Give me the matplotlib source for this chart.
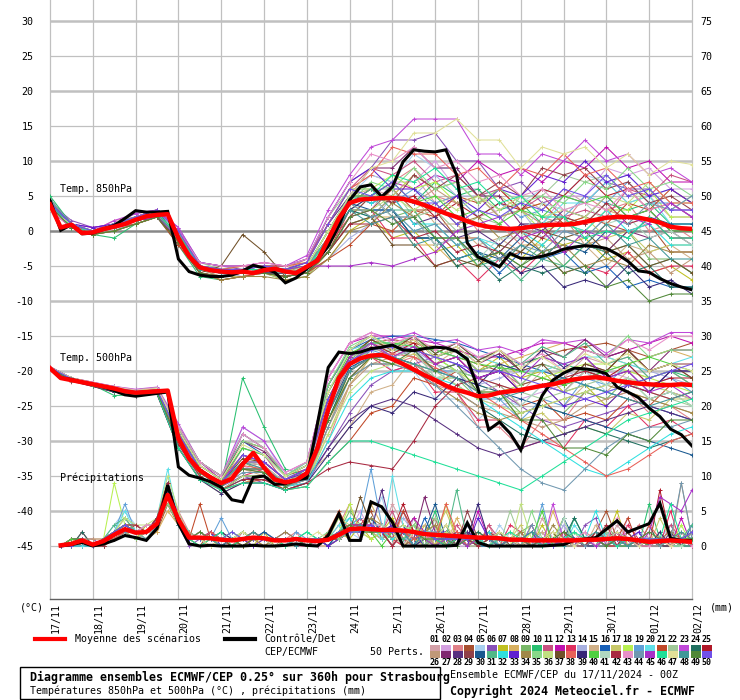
import matplotlib
matplotlib.use("Agg")
import matplotlib.pyplot as plt
from matplotlib.patches import Rectangle
from matplotlib.lines import Line2D
import matplotlib.transforms as mtransforms

plt.rcParams['font.family'] = ['DejaVu Sans Mono']

# ---------------- data ----------------
hours_6 = list(range(0, 361, 6))
hours_12 = list(range(0, 361, 12))
hours_precip = list(range(6, 361, 6))

date_labels = ['17/11', '18/11', '19/11', '20/11', '21/11', '22/11', '23/11', '24/11',
               '25/11', '26/11', '27/11', '28/11', '29/11', '30/11', '01/12', '02/12']

# ensemble mean and control, 6-hourly
t850_mean = [3.8, 0.5, 0.9, -0.3, -0.2, 0.3, 0.6, 1.0, 1.6, 2.1, 2.3, 2.4, -1.0, -3.6, -5.2, -5.6,
             -5.8, -5.9, -5.8, -6.0, -5.6, -5.4, -5.8, -6.0, -5.1, -4.2, -1.2, 1.8, 4.0, 4.5, 4.6,
             4.7, 4.7, 4.6, 4.2, 3.7, 3.1, 2.5, 2.0, 1.4, 0.9, 0.6, 0.4, 0.3, 0.4, 0.6, 0.8, 0.9,
             0.9, 1.0, 1.3, 1.6, 1.9, 2.0, 2.0, 1.9, 1.6, 1.2, 0.6, 0.4, 0.3]
t850_ctrl = [4.4, 0.1, 0.9, -0.4, -0.3, 0.3, 0.8, 1.8, 2.9, 2.7, 2.7, 2.8, -4.0, -5.8, -6.3, -6.5,
             -6.5, -6.3, -5.7, -4.9, -5.3, -5.9, -7.4, -6.7, -5.4, -4.1, -2.2, 0.8, 4.4, 6.3, 6.6,
             4.9, 6.3, 9.9, 11.6, 11.4, 11.3, 11.6, 8.0, -1.7, -3.7, -4.4, -5.1, -3.2, -3.9, -3.9,
             -3.6, -3.2, -2.6, -2.3, -2.1, -2.2, -2.5, -3.3, -4.3, -5.7, -5.9, -6.8, -7.5, -8.0, -8.4]
t500_mean = [-19.6, -21.0, -21.3, -21.6, -21.9, -22.2, -22.5, -22.9, -23.1, -23.0, -22.9, -22.8,
             -29.6, -32.5, -34.2, -35.2, -36.0, -35.4, -33.3, -31.7, -33.8, -35.5, -35.9, -35.6,
             -34.6, -31.0, -25.5, -21.0, -19.0, -18.2, -17.8, -17.7, -18.3, -19.0, -19.8, -20.6,
             -21.3, -22.1, -22.7, -23.1, -23.6, -23.5, -23.1, -22.9, -22.7, -22.4, -22.1, -21.9,
             -21.5, -21.2, -21.0, -20.9, -21.1, -21.4, -21.6, -21.8, -21.9, -22.0, -22.0, -21.9, -22.0]
t500_ctrl = [-19.6, -21.0, -21.2, -21.6, -21.9, -22.3, -22.8, -23.4, -23.6, -23.4, -23.2, -23.0,
             -33.7, -34.9, -35.3, -35.8, -36.6, -38.4, -38.7, -35.2, -35.0, -36.2, -36.1, -35.6,
             -35.3, -27.5, -19.5, -17.3, -17.5, -17.3, -16.8, -16.6, -16.3, -17.0, -17.1, -16.8,
             -16.6, -16.7, -17.2, -18.3, -22.5, -28.4, -27.3, -28.9, -31.3, -27.0, -23.5, -21.3,
             -20.3, -19.6, -19.7, -19.9, -20.4, -22.3, -23.0, -23.8, -25.3, -26.5, -28.3, -29.1, -30.7]
precip_mean = [0.1, 0.3, 0.8, 0.2, 0.7, 1.6, 2.4, 1.9, 2.0, 3.2, 7.3, 3.8, 1.2, 1.2, 1.1, 0.9,
               0.8, 1.0, 1.2, 1.1, 0.8, 0.8, 1.0, 0.8, 0.7, 0.9, 1.6, 2.4, 2.5, 2.4, 2.3, 2.3,
               2.2, 2.0, 1.7, 1.6, 1.5, 1.4, 1.3, 1.2, 1.2, 1.1, 0.9, 0.9, 0.8, 0.8, 0.8, 0.8,
               0.8, 0.9, 0.9, 1.0, 1.1, 1.0, 0.8, 0.6, 0.7, 0.8, 0.7, 0.6]
precip_ctrl = [0.0, 0.2, 0.5, 0.0, 0.3, 0.8, 1.5, 1.2, 0.8, 2.5, 8.7, 3.2, 0.3, 0.0, 0.1, 0.0,
               0.0, 0.0, 0.1, 0.0, 0.0, 0.1, 0.3, 0.1, 0.0, 1.5, 4.6, 0.8, 0.8, 6.3, 5.6, 3.4,
               0.0, 0.0, 0.0, 0.0, 0.0, 0.1, 3.3, 0.5, 0.0, 0.0, 0.0, 0.0, 0.0, 0.0, 0.1, 0.2,
               0.8, 1.0, 1.2, 2.4, 3.6, 2.0, 2.6, 3.2, 6.1, 1.1, 0.8, 0.8]

# 50 perturbed members, 12-hourly temperatures
t850_members = [
    [3.5,1,0,1,2,2.5,-1,-5.5,-6,-5.5,-5,-6,-5.5,-2,4,6,5,8,4,5,2,3,5,3,6,4,7,4,5,2,2],
    [4,0.5,-0.5,0.5,1.5,2,-2,-6,-6.5,-6,-5.5,-6,-6,-3,2,3,7,7,10,6,6,2,3,1,5,5,9,8,9,6,6],
    [3,1,0,1.5,2,3,0,-5,-5.5,-5,-5,-5.5,-4,1,6,8,7,9,5,4,0,1,-2,2,1,5,3,4,0,1,-1],
    [4.5,1,-0.5,0,1,2,-1.5,-6,-7,-6.5,-6,-6.5,-6,-3,3,3,6,3,3,-1,-1,-4,-3,-4,-1,-2,1,0,1,-3,-3],
    [3.5,0.5,0,1,2,2.5,-0.5,-5,-5.5,-6,-5.5,-6,-5,0,5,8,7,11,9,9,5,6,4,6,5,8,7,8,5,6,4],
    [4,1.5,0.5,1,2.5,3,0.5,-4.5,-5,-5.5,-5,-5.5,-4.5,2,7,9,13,13,14,10,10,6,7,4,5,4,7,6,6,3,3],
    [3,1,-0.5,0.5,1,2,-1,-5.5,-6,-6,-5.5,-6,-6,-4,0,2,-1,0,-3,-2,-5,-3,-4,-1,-2,-1,-4,-3,-6,-5,-7],
    [4,0.5,0,1,1.5,2.5,-1,-5,-6,-5.5,-5,-5.5,-5.5,-1,4,2,2,-2,-2,-5,-4,-5,-2,-2,1,0,3,2,3,0,0],
    [3.5,1,0,0.5,1.5,2,-1.5,-5.5,-6.5,-6,-6,-6.5,-6,-2,3,5,2,3,-1,-1,-4,-3,-5,-2,-5,-2,-3,0,-4,-4,-6],
    [5,1,-0.5,-1,1,2,-2,-6.5,-7,-6.5,-6,-7,-6.5,-3,1,2,5,4,7,5,6,3,4,1,2,1,4,3,4,1,1],
    [3,0.5,0,1,2,3,0,-4.5,-5,-5,-4.5,-5,-4,1,6,9,8,10,7,8,5,6,3,5,2,3,2,6,5,8,7],
    [4,1,0.5,1,2,2.5,-1,-5,-5.5,-6,-5.5,-6,-5,-1,5,5,7,6,8,7,10,8,9,7,10,9,12,9,10,7,7],
    [3.5,1,0,0.5,1,2,-1.5,-6,-6.5,-6,-6,-6,-5.5,-2,2,3,-1,-1,-5,-4,-7,-4,-6,-3,-6,-5,-6,-3,-6,-5,-5],
    [4,0.5,-0.5,0,1.5,2,-1,-5.5,-6,-6.5,-6,-6.5,-6,-4,-1,1,5,5,8,5,5,2,3,-1,0,-1,2,1,2,-1,-1],
    [3,1,0,1,2,2.5,-0.5,-5,-5.5,-5.5,-5,-5.5,-5,0,5,6,4,5,1,1,-2,-1,-3,0,-3,-2,-5,-2,-3,-2,-4],
    [4.5,1,0,1,2,3,-1,-5.5,-6,-6,-5.5,-6,-5.5,-2,3,3,3,-1,-1,-4,-3,-6,-3,-4,-3,-6,-5,-8,-7,-8,-8],
    [3.5,1,-0.5,0.5,1.5,2,-1.5,-6,-6.5,-6.5,-6,-7,-6.5,-3,2,5,5,8,6,7,4,5,3,4,1,2,-1,0,-3,-2,-2],
    [4,0.5,0,1,2,2.5,-1,-5,-5.5,-5,-5,-5,-4.5,1,6,6,8,6,7,4,5,2,3,0,1,0,3,3,6,2,2],
    [3,1,0,1,1.5,2,-1,-5.5,-6,-5.5,-5.5,-6,-5.5,-1,4,6,4,6,4,5,2,4,2,3,2,5,4,7,4,4,2],
    [4,1,0,0.5,1.5,2.5,-0.5,-5,-5.5,-6,-5.5,-5.5,-5,-1,3,2,3,0,1,-2,-1,-2,1,1,4,4,7,4,5,1,1],
    [3.5,0.5,-0.5,0,1,2,-2,-6,-7,-6.5,-6,-6.5,-6,-4,-2,1,0,3,2,5,4,6,3,4,1,2,1,4,3,6,4],
    [4,1,0,1,2,3,0,-4.5,-5.5,-5,-5,-5,-4,2,6,6,6,2,3,0,2,1,5,5,8,7,8,5,6,3,5],
    [3,1,0,1.5,2.5,3,0.5,-4.5,-5,-5,-4.5,-5,-3.5,3,8,12,13,16,16,16,11,11,8,11,10,13,10,11,8,9,7],
    [4,0.5,0,0.5,1.5,2,-1,-5.5,-6,-6,-6,-6,-5.5,-2,3,2,3,-1,-1,-5,-4,-7,-5,-6,-5,-6,-3,-6,-5,-8,-8],
    [3.5,1,0,1,2,2.5,-0.5,-5,-5.5,-5.5,-5,-5.5,-5,-1,4,6,4,5,2,4,2,4,3,6,5,8,5,6,3,4,2],
    [4,1,-0.5,0.5,1.5,2.5,-1,-5.5,-6.5,-6,-6,-6.5,-6,-3,1,2,5,4,6,4,5,2,3,1,2,-2,-1,-4,-3,-6,-4],
    [3,0.5,0,1,2,2.5,-1,-5.5,-6,-6,-5.5,-6,-5,0,5,9,9,12,9,9,5,5,1,1,-3,-2,-3,0,-1,0,-2],
    [4.5,1,0,1,2,3,0,-5,-5.5,-5.5,-5,-5.5,-4.5,1,5,4,5,1,2,-1,0,-2,1,0,3,2,5,2,3,0,0],
    [3.5,1,0,0.5,1.5,2,-1.5,-6,-6.5,-6,-6,-6.5,-6,-3,2,5,4,8,6,8,5,7,5,9,8,9,6,7,4,5,3],
    [4,0.5,0,1,2,2.5,-1,-5.5,-6,-6,-5.5,-6,-5.5,-2,4,3,3,-1,-1,-4,-3,-4,-1,-3,-2,-3,0,-1,2,1,1],
    [3,1,0,1,1.5,2,-1,-5,-6,-5.5,-5.5,-5.5,-5,-1,4,6,3,3,-1,-1,-5,-4,-7,-4,-5,-2,-3,-2,-5,-4,-6],
    [4,1,0,0.5,2,2.5,-0.5,-5,-5.5,-5.5,-5,-5.5,-5,0,5,4,5,1,1,-2,-1,-3,0,-2,1,0,3,0,1,-2,-2],
    [3.5,1,0.5,1,2,3,0,-4.5,-5,-5,-5,-5,-4,2,7,9,6,6,3,5,3,6,5,8,7,10,7,8,5,6,4],
    [4,0.5,-0.5,0,1,2,-1.5,-6,-7,-6.5,-6.5,-7,-6.5,-4,0,1,4,2,4,1,2,-1,0,-3,-2,-5,-4,-5,-2,-3,-3],
    [3,1,0,1,2,2.5,-0.5,-5,-5.5,-5.5,-5,-5.5,-5,0,4,7,6,9,6,7,4,6,4,5,4,7,6,9,6,7,5],
    [4.5,1,0,1,2,2.5,-1,-5.5,-6,-6,-5.5,-6,-5.5,-2,3,3,5,3,5,3,5,3,5,2,3,2,5,4,7,4,4],
    [3.5,0.5,0,0.5,1.5,2,-1.5,-6,-5,-0.5,-3,-6.5,-6,-3,1,2,-2,-2,-5,-4,-5,-2,-3,0,-1,0,-3,-2,-5,-4,-6],
    [4,1,0,1,2,3,0,-5,-5.5,-5,-5,-5,-4.5,1,6,8,12,11,11,8,9,6,9,8,11,8,9,6,7,4,4],
    [3,1,0,1,1.5,2,-1,-5.5,-6,-6,-6,-6,-5.5,-2,3,5,2,2,-2,-1,-4,-3,-6,-5,-8,-7,-8,-5,-8,-7,-9],
    [4,0.5,0,1,2,2.5,-0.5,-5,-5.5,-5.5,-5,-5.5,-5,0,5,5,7,4,5,2,3,1,3,2,5,4,5,2,3,0,0],
    [3.5,1,0,0.5,1.5,2.5,-1,-5.5,-6,-6,-5.5,-6,-5.5,-1,4,5,2,2,-2,-1,-4,-1,-1,4,3,4,1,2,-1,0,-2],
    [4,1,-0.5,0.5,1.5,2,-1.5,-6,-6.5,-6,-6,-6.5,-6,-3,1,1,2,-1,0,-3,-2,-3,0,-1,2,1,4,1,2,-1,-1],
    [3,0.5,0,1,2,3,0,-4.5,-5,-5,-4.5,-5,-4,2,7,11,10,12,9,10,7,8,5,6,3,4,3,6,3,4,2],
    [4.5,1,0,1,2,2.5,-1,-5.5,-6,-5.5,-5.5,-6,-5,-1,4,2,3,0,1,-2,-1,-4,-2,-3,0,-1,2,1,4,3,5],
    [3.5,1,0,1,1.5,2,-1,-5,-5.5,-5.5,-5,-5.5,-5,-5,-5,-4.5,-5,-4,-3,0,1,2,-1,0,-3,0,-1,2,1,4,2],
    [4,0.5,0,0.5,1.5,2.5,-0.5,-5,-6,-5.5,-5.5,-6,-5.5,-1,4,5,8,7,9,6,7,4,5,2,2,-1,0,-1,2,-1,-1],
    [3,1,0,1,2,2.5,-1,-5.5,-6,-6,-5.5,-6,-5,0,5,9,10,14,14,16,13,13,9,12,11,12,9,11,8,10,9.5],
    [4,1,0,1,2,2.5,-1,-5.5,-6,-6,-5.5,-6,-5.5,-2,3,1,2,-2,-1,-4,-3,-5,-2,-4,-1,-2,1,-2,-1,-4,-4],
    [3.5,0.5,-0.5,0,1,2,-1.5,-6,-6.5,-6,-6,-6.5,-6,-3,2,3,1,2,-1,-1,-4,-3,-5,-3,-6,-5,-8,-7,-10,-9,-9],
    [4,1,0,1,2,3,0,-5,-5.5,-5.5,-5,-5.5,-4.5,1,6,5,7,4,4,1,3,2,4,3,6,5,8,5,6,3,3],
]

t500_members = [
    [-19.5,-21,-21.8,-22.5,-23,-22.8,-29,-34,-36,-33,-34,-36,-35,-26,-19,-16,-17,-16,-19,-18,-21,-20,-23,-20,-21,-18,-19,-18,-21,-20,-22],
    [-19.6,-21.2,-22,-22.8,-23.2,-23,-30,-34.5,-36.5,-34,-33,-35.5,-34,-22,-17,-16,-16.5,-18,-20,-22,-24,-25,-24,-23,-22,-21,-20,-21,-22,-23,-24],
    [-19.5,-21.5,-22.2,-23,-23.5,-23,-31,-35,-37,-35,-35,-36.5,-36,-30,-22,-18,-19,-18,-22,-23,-28,-28,-31,-27,-27,-23,-24,-23,-26,-25,-27],
    [-19.4,-21,-21.6,-22.3,-22.8,-22.5,-28,-33,-35,-30,-31,-35,-34,-23,-18,-16,-15.5,-16,-17,-18,-19,-20,-19,-18,-17,-16.5,-16,-17,-18,-17,-16],
    [-19.5,-21.3,-22,-22.6,-23,-22.8,-29.5,-34,-36,-28,-30,-35,-34.5,-25,-19,-17,-20,-20,-24,-24,-27,-24,-25,-22,-23,-20,-23,-22,-23,-20,-20],
    [-19.6,-21.2,-21.9,-22.4,-23.1,-23,-30,-34.5,-36.5,-35,-36,-37,-36,-31,-26,-22,-20,-19,-18,-19,-21,-23,-25,-27,-28,-27,-26,-25,-24,-23,-24],
    [-19.5,-21.1,-21.7,-22.2,-22.9,-22.6,-28.5,-33.5,-35.5,-32,-33,-35.5,-34,-24,-18,-15.5,-17,-15.5,-18,-17,-20,-18,-21,-20,-23,-22,-25,-22,-23,-20,-20],
    [-19.5,-21.4,-22.1,-22.7,-23.3,-23.2,-30.5,-35,-37,-36,-35,-37,-36,-28,-20,-17,-16,-16,-16.5,-17,-18,-19,-18,-17,-16,-17,-18,-19,-18,-17,-18],
    [-19.6,-21,-21.8,-22.5,-23,-22.9,-29,-34,-36,-33,-34.5,-36,-34,-24,-18.5,-16,-18,-17,-21,-21,-24,-23,-26,-25,-26,-23,-24,-21,-24,-23,-25],
    [-19.5,-21.3,-22,-23.5,-23.4,-23,-30,-34.5,-36.5,-21,-28,-34,-35,-27,-20,-18,-17,-17,-18,-20,-21,-20,-19,-18,-19,-20,-21,-22,-21,-20,-21],
    [-19.4,-21.2,-21.9,-22.4,-23,-22.7,-29,-34,-36,-31,-32,-36,-35,-25,-19,-16.5,-18,-16.5,-19,-18,-21,-20,-22,-19,-20,-17,-18,-17,-20,-19,-21],
    [-19.5,-21,-21.7,-22.3,-22.7,-22.4,-28,-33,-35.5,-29,-31,-35,-33,-21,-16,-15,-15,-15.5,-16,-17,-18,-18,-17,-16,-16,-17,-18,-17,-16,-15,-16],
    [-19.6,-21.3,-22,-22.6,-23.2,-23,-30,-35,-37,-35,-34,-36.5,-35.5,-27,-21,-18,-20,-19,-23,-23,-27,-27,-31,-30,-31,-27,-28,-25,-28,-27,-29],
    [-19.5,-21.1,-21.8,-22.5,-23,-22.8,-29,-34,-36,-32,-33,-35.5,-34,-24,-18,-16,-16,-17,-19,-21,-22,-21,-20,-19,-20,-21,-20,-19,-20,-21,-22],
    [-19.5,-21.2,-22,-22.8,-23.3,-23,-30,-34.5,-36,-34,-35,-36,-35,-32,-28,-23,-22,-18,-19,-17,-20,-19,-23,-22,-25,-22,-23,-20,-21,-20,-22],
    [-19.4,-21,-21.7,-22.2,-22.8,-22.5,-28,-33,-35,-30,-32,-35,-33.5,-22,-17,-15.5,-15,-15,-15.5,-16,-17,-18,-19,-20,-21,-22,-23,-24,-25,-26,-27],
    [-19.5,-21.3,-22.1,-22.9,-23.4,-23.2,-31,-35.5,-37.5,-36,-36,-37,-36,-29,-22,-18,-19,-17.5,-20,-19,-23,-23,-27,-26,-29,-28,-29,-26,-27,-24,-24],
    [-19.6,-21.1,-21.9,-22.5,-23,-22.8,-29,-34,-36,-33,-33,-35.5,-34.5,-25,-19,-17,-16.5,-17,-18,-20,-22,-23,-22,-21,-20,-19,-19,-20,-21,-22,-23],
    [-19.5,-21.2,-22,-22.6,-23.1,-22.9,-29.5,-34.5,-36.5,-34,-34,-36,-35,-26,-20,-17,-18,-17,-20,-20,-24,-24,-27,-24,-25,-21,-22,-19,-22,-21,-23],
    [-19.5,-21,-21.8,-22.4,-22.9,-22.7,-28.5,-33.5,-35.5,-31,-32,-35,-33,-23,-17,-16,-16,-16.5,-17,-18,-18,-19,-20,-20,-19,-18,-18,-19,-20,-19,-18],
    [-19.5,-21.4,-22.2,-23,-23.5,-23.3,-31,-35.5,-37,-36,-35.5,-37,-36.5,-33,-30,-26,-25,-21,-22,-20,-23,-22,-25,-24,-27,-26,-27,-24,-25,-22,-22],
    [-19.6,-21.1,-21.8,-22.4,-23,-22.7,-29,-34,-36,-32,-33,-35.5,-34,-24,-18,-17,-17,-18,-19,-20,-21,-22,-23,-24,-23,-22,-21,-22,-23,-24,-25],
    [-19.4,-21,-21.6,-22.2,-22.6,-22.3,-27.5,-33,-35,-28,-30,-34.5,-33,-21,-16,-14.5,-15.5,-14.5,-16,-15.5,-17,-16.5,-17.5,-15.5,-16,-15.5,-17.5,-15.5,-16,-14.5,-14.5],
    [-19.5,-21.3,-22,-22.7,-23.2,-23,-30,-35,-37,-35,-35,-36.5,-35.5,-27,-20,-18,-18,-19,-21,-23,-25,-27,-29,-30,-29,-28,-29,-30,-31,-30,-29],
    [-19.5,-21.2,-21.9,-22.5,-23,-22.8,-29,-34,-36,-33,-33.5,-36,-34.5,-25,-19,-16,-17.5,-16,-19,-18,-21,-20,-23,-22,-23,-20,-21,-19,-22,-21,-21],
    [-19.6,-21.2,-22,-22.6,-23.1,-22.9,-29.5,-34.5,-36.5,-34,-34.5,-36,-35,-28,-22,-19,-18,-19,-21,-23,-25,-26,-27,-28,-27,-25,-24,-23,-24,-25,-26],
    [-19.5,-21,-21.7,-22.3,-22.8,-22.6,-28.5,-33.5,-35.5,-30,-31.5,-35,-33.5,-22,-17,-15,-17,-15.5,-18,-16.5,-19,-17.5,-20,-17,-18,-15.5,-18,-17,-20,-17,-17],
    [-19.5,-21.3,-22.1,-22.8,-23.3,-23.1,-30.5,-35,-37,-35.5,-35,-36.5,-35.5,-31,-27,-25,-24,-25,-27,-29,-31,-32,-31,-30,-29,-28,-27,-26,-25,-26,-27],
    [-19.4,-21.1,-21.8,-22.4,-23,-22.7,-29,-34,-36,-32,-33,-35.5,-34,-24,-18,-15.5,-17,-15.5,-18,-17,-20,-19,-22,-21,-22,-19,-20,-17,-20,-19,-19],
    [-19.5,-21.2,-22,-22.6,-23.2,-23,-30,-34.5,-36.5,-34,-34,-36,-35,-26,-19.5,-18,-18,-19,-20,-21,-22,-23,-24,-25,-26,-27,-28,-29,-30,-31,-32],
    [-19.6,-21,-21.7,-22.3,-22.8,-22.5,-28,-33,-35,-29,-31,-35,-33.5,-22,-17,-15,-16.5,-15,-17.5,-16,-18.5,-17,-19,-16.5,-18,-16,-19,-18,-21,-20,-22],
    [-19.5,-21.3,-22.1,-22.8,-23.3,-23.1,-30.5,-35,-37,-35.5,-35.5,-36.5,-36,-30,-24,-21,-20,-20,-21,-22,-24,-26,-28,-30,-32,-34,-35,-33,-31,-29,-28],
    [-19.5,-21.1,-21.8,-22.5,-23,-22.8,-29,-34,-36,-33,-33,-35.5,-34.5,-25,-19,-16,-18,-17,-20,-19,-21,-20,-23,-22,-25,-24,-25,-22,-23,-20,-20],
    [-19.5,-21.2,-21.9,-22.6,-23.1,-22.9,-29.5,-34.5,-36.5,-34,-34,-36,-35,-27,-21,-19,-19,-20,-22,-24,-26,-27,-26,-25,-24,-23,-22,-23,-24,-25,-26],
    [-19.4,-21,-21.7,-22.3,-22.7,-22.4,-28,-33,-35,-30,-31,-35,-33,-22,-16.5,-15,-16.5,-15,-18,-17,-20,-19,-22,-19,-20,-17,-18,-15,-18,-17,-17],
    [-19.6,-21.3,-22,-22.7,-23.2,-23,-30,-35,-37,-35,-35,-36.5,-35.5,-29,-23,-20,-19,-19,-20,-22,-24,-25,-26,-25,-24,-23,-22,-21,-22,-23,-24],
    [-19.5,-21.1,-21.8,-22.4,-23,-22.7,-29,-34,-36,-32.5,-33,-35.5,-34,-24,-18,-15.5,-17,-15,-17.5,-16,-18.5,-17,-20,-19,-22,-19,-20,-17,-20,-19,-21],
    [-19.5,-21.2,-22,-22.6,-23.1,-22.9,-29.5,-34.5,-36,-33.5,-34,-36,-35,-26,-20,-18,-17.5,-18,-19.5,-21,-23,-25,-27,-29,-31,-33,-35,-34,-32,-30,-29],
    [-19.6,-21.4,-22.2,-23,-23.5,-23.3,-31,-35.5,-37.5,-36,-36,-37,-36,-32,-28,-25,-26,-23,-24,-21,-22,-19,-20,-17,-19.5,-18,-21,-20,-23,-20,-20],
    [-19.5,-21,-21.7,-22.3,-22.8,-22.5,-28.5,-33.5,-35.5,-31,-32,-35,-33.5,-23,-17.5,-16,-16,-16.5,-17,-18,-19,-19.5,-20,-21,-22,-21,-20,-19,-18,-19,-20],
    [-19.5,-21.2,-21.9,-22.5,-23,-22.8,-29,-34,-36,-33,-33.5,-36,-34.5,-25,-19,-16,-18,-17,-21,-20,-23,-22,-25,-22,-23,-20,-22,-21,-24,-23,-25],
    [-19.5,-21.3,-22.1,-22.8,-23.3,-23.1,-30.5,-35,-37,-35.5,-35.5,-37,-36,-34,-33,-33.5,-34,-30,-25,-22,-21,-22,-23,-22,-21,-20,-21,-22,-23,-24,-23],
    [-19.4,-21,-21.6,-22.2,-22.7,-22.4,-28,-33,-35,-29,-31,-34.5,-33,-21,-16,-14.5,-16,-15,-17,-16,-18,-17,-19,-17.5,-20,-17,-18,-15.5,-17,-15,-15],
    [-19.5,-21.2,-22,-22.7,-23.2,-23,-30,-34.5,-36.5,-34.5,-34.5,-36.5,-35.5,-28,-21,-19,-19,-20,-22,-25,-28,-31,-34,-36,-37,-34,-31,-29,-28,-28,-27],
    [-19.6,-21.1,-21.8,-22.4,-22.9,-22.7,-29,-34,-36,-32,-33,-35.5,-34,-24,-18,-16,-18,-16.5,-19,-18,-21,-20,-21,-18,-19,-18,-21,-20,-23,-22,-24],
    [-19.5,-21.3,-22.1,-22.9,-23.4,-23.2,-31,-35.5,-37,-36,-36,-37,-36.5,-33,-30,-30,-31,-32,-33,-34,-35,-36,-37,-35,-33,-31,-29,-27,-26,-25,-24],
    [-19.5,-21,-21.7,-22.3,-22.8,-22.5,-28.5,-33.5,-35.5,-30.5,-32,-35,-33.5,-23,-17,-15,-17,-15.5,-18,-16.5,-19,-17,-19.5,-18,-20,-17.5,-19,-17.5,-20,-19,-20],
    [-19.5,-21.2,-21.9,-22.5,-23,-22.8,-29,-34,-36,-33,-34,-36,-35,-26,-20,-18,-18,-19,-20,-21,-23,-24,-23,-22,-21,-22,-23,-24,-25,-24,-23],
    [-19.6,-21.3,-22,-22.7,-23.2,-23,-30,-34.5,-36.5,-34,-34.5,-36.5,-35,-27,-21,-18,-19,-17,-20,-19,-23,-23,-27,-27,-31,-31,-32,-29,-30,-27,-27],
    [-19.5,-21.1,-21.8,-22.4,-22.9,-22.7,-29,-34,-36,-32,-33,-35.5,-34,-24,-18.5,-17,-16.5,-17,-18,-19,-20,-20,-21,-22,-23,-24,-23,-22,-21,-20,-19],
]

# 50 perturbed members, 6-hourly precipitation (mm)
precip_members = [
    [0,0,1,0,1,2,3,2,2,4, 8,4,1,1,0,1,0,1,2,1, 0,1,0,0,0,1,2,4,1,3, 2,6,3,0,2,1,0,0,3,1, 0,0,2,0,0,4,1,0,0,1, 0,0,3,1,0,0,1,0,0,2],
    [0,1,0,0,1,1,2,2,3,3, 7,3,1,2,1,0,1,0,1,2, 1,0,0,1,0,0,1,2,5,2, 3,1,0,4,1,0,2,0,0,1, 0,2,0,0,1,0,0,3,1,0, 0,1,0,4,0,0,0,1,0,0],
    [0,0,1,0,0,2,4,2,1,3, 9,5,2,1,1,0,0,2,1,0, 0,1,2,0,0,1,3,6,2,1, 2,0,5,1,0,1,3,0,1,0, 3,0,0,0,1,2,0,0,0,2, 1,0,0,0,3,1,0,0,2,0],
    [0,1,1,0,1,1,2,1,2,2, 6,3,1,0,2,1,1,0,1,1, 0,0,1,1,0,2,1,2,3,5, 1,3,2,0,2,4,0,2,1,0, 1,0,0,2,0,0,1,0,0,0, 2,5,1,0,0,1,0,0,1,0],
    [0,0,0,0,1,3,5,3,2,4, 10,4,1,1,0,1,1,1,2,1, 1,0,0,1,1,0,2,2,1,3, 7,2,0,3,1,0,1,0,3,0, 0,3,1,0,0,1,0,0,4,1, 0,1,0,0,2,0,1,3,0,1],
    [0,0,1,1,0,1,2,2,2,3, 7,3,0,1,1,1,0,0,1,1, 1,2,1,0,0,1,1,3,2,2, 1,2,5,2,0,3,1,1,0,0, 1,0,0,1,2,0,1,0,0,3, 4,0,0,1,0,1,0,0,1,0],
    [0,0,1,0,1,2,2,1,3,3, 8,4,2,1,1,0,1,1,0,2, 0,1,1,0,1,1,2,1,3,1, 2,4,1,0,3,0,6,1,0,2, 1,0,0,1,0,3,0,1,0,0, 0,1,5,0,1,0,0,0,1,0],
    [0,1,0,0,0,1,2,2,1,2, 5,3,1,2,1,1,0,1,1,0, 1,0,0,1,0,0,1,3,2,6, 3,1,0,1,2,3,0,4,1,0, 2,0,1,0,0,0,5,1,0,0, 1,0,0,2,0,0,1,1,0,0],
    [0,0,1,0,1,2,3,3,2,4, 9,4,1,1,2,1,1,0,1,1, 0,1,1,0,0,1,2,5,3,2, 1,2,2,4,0,1,3,0,2,0, 0,1,0,2,3,0,0,0,1,0, 0,3,1,0,0,0,0,1,0,2],
    [0,0,0,0,1,1,2,2,2,3, 6,4,2,1,1,1,1,2,1,1, 0,0,1,2,1,0,1,2,2,4, 2,0,2,3,1,5,0,1,2,0, 1,2,0,0,0,0,1,0,4,1, 0,1,0,1,0,6,1,0,0,1],
    [0,1,1,0,1,2,2,2,2,3, 7,3,1,1,0,1,0,1,2,1, 1,1,0,0,1,1,1,2,3,2, 2,5,1,0,1,2,0,3,1,0, 3,1,0,0,1,0,0,1,1,0, 1,0,2,1,0,0,0,3,1,0],
    [0,0,1,0,0,2,3,2,2,3, 8,4,1,1,1,0,1,1,1,2, 1,0,1,1,0,1,2,3,2,3, 2,0,2,4,2,0,1,2,0,5, 1,0,1,0,3,0,0,1,0,1, 0,1,2,0,1,0,1,0,4,0],
    [0,0,2,0,1,1,2,1,2,3, 6,3,1,2,1,1,1,0,1,1, 0,1,1,0,1,0,1,2,4,2, 3,1,0,2,1,0,2,1,1,0, 1,0,3,2,0,0,1,0,1,0, 0,2,0,3,1,0,0,5,0,0],
    [0,0,1,0,1,2,2,2,3,3, 7,4,1,1,1,0,0,1,2,1, 1,1,0,1,0,1,2,2,3,2, 2,3,4,2,0,2,1,0,2,1, 0,1,1,0,0,2,0,3,0,1, 1,0,1,0,2,1,0,1,0,0],
    [0,1,1,1,1,2,3,2,2,4, 9,3,2,1,1,1,1,1,0,1, 1,0,1,1,0,1,1,3,2,2, 1,3,2,2,3,0,1,2,0,2, 1,0,0,0,1,2,0,0,1,0, 3,1,0,1,0,0,2,0,0,1],
    [0,0,0,0,1,1,2,2,2,3, 7,4,1,1,2,1,0,1,1,1, 1,1,1,0,1,0,2,2,2,4, 2,2,3,0,4,1,2,0,1,0, 2,1,0,0,1,0,0,2,1,0, 0,2,1,0,0,1,0,1,0,3],
    [0,0,1,0,0,1,2,2,2,3, 6,3,1,1,1,1,1,1,2,1, 1,1,1,1,0,1,1,2,3,2, 2,0,2,1,0,2,5,1,0,2, 1,0,1,3,0,1,0,0,1,0, 1,0,0,1,1,0,4,1,0,0],
    [0,0,1,0,1,9,3,2,1,3, 8,3,1,1,1,1,0,1,1,1, 0,1,1,0,0,1,2,6,2,1, 2,1,1,3,1,2,0,1,2,1, 1,0,1,0,2,0,1,4,0,1, 0,1,0,1,0,0,1,0,3,0],
    [0,0,1,0,1,2,6,2,1,3, 9,4,1,1,1,4,1,0,1,1, 1,0,2,1,1,1,2,3,4,11, 3,2,1,1,2,1,0,2,1,0, 0,1,0,1,0,6,0,1,0,1, 1,0,1,0,1,0,0,1,0,1],
    [0,0,0,0,1,2,5,2,2,4, 11,4,2,1,1,0,1,1,1,2, 1,1,1,0,0,1,3,4,2,3, 1,10,3,2,1,0,2,1,0,1, 0,1,0,0,1,0,1,0,3,1, 1,2,0,1,0,1,0,1,0,0],
    [0,1,1,0,1,2,2,3,2,3, 7,3,1,6,1,1,1,0,1,1, 1,0,1,1,0,2,5,2,3,2, 2,1,5,2,1,0,2,1,0,1, 2,1,0,0,1,1,0,1,0,0, 1,0,1,4,0,0,1,0,1,0],
    [0,0,1,0,0,2,4,2,3,3, 8,4,1,1,1,1,1,1,2,1, 1,1,1,0,1,0,1,2,3,2, 2,2,1,2,0,4,1,2,1,0, 1,0,5,1,0,1,0,0,1,1, 0,2,1,0,1,0,0,1,0,1],
    [0,0,1,0,1,2,3,2,2,4, 7,5,1,1,2,1,1,1,1,1, 1,1,0,1,0,1,2,3,2,3, 3,2,2,1,2,1,1,0,2,1, 0,1,0,1,0,0,6,1,0,0, 0,1,1,2,0,0,1,0,0,1],
    [0,0,2,0,1,2,3,2,2,3, 8,4,1,1,1,0,1,2,1,1, 0,1,1,1,1,1,2,3,3,2, 2,3,2,0,1,1,0,0,1,2, 1,1,0,0,1,0,0,1,4,1, 0,0,1,1,0,3,0,1,0,0],
    [0,0,1,0,0,1,2,2,2,3, 6,3,1,1,0,1,1,1,2,1, 1,0,1,1,0,1,1,2,2,3, 2,2,6,2,1,2,0,1,0,1, 1,0,1,1,0,1,0,0,1,0, 2,1,0,1,0,0,8,1,0,1],
    [0,0,1,1,1,2,3,3,2,3, 8,3,2,1,1,1,0,1,1,1, 1,1,1,0,1,1,2,3,2,2, 2,2,2,3,2,0,2,1,0,1, 0,1,1,0,1,0,1,1,0,0, 1,0,0,1,0,1,1,0,9,1],
    [0,0,1,0,1,2,3,2,2,4, 9,4,1,2,1,1,1,1,1,1, 1,1,1,1,0,1,2,2,3,2, 2,3,0,1,7,2,1,2,0,1, 1,0,1,1,0,1,0,2,0,1, 1,0,1,0,1,0,0,1,1,0],
    [0,1,1,0,1,1,2,2,2,3, 7,4,1,1,1,1,1,1,1,1, 1,0,1,1,1,1,2,3,2,2, 8,2,2,0,1,1,0,1,2,1, 1,0,1,0,1,0,1,0,0,1, 1,0,1,0,0,1,0,2,0,1],
    [0,0,1,0,0,2,3,2,2,3, 8,4,1,1,2,1,1,0,1,1, 1,1,0,1,0,1,1,2,3,2, 2,2,0,2,1,1,2,0,5,1, 1,2,0,1,0,0,1,0,1,0, 1,0,1,0,0,1,0,0,1,2],
    [0,0,1,0,1,2,3,2,2,4, 9,3,1,1,1,1,1,1,1,2, 1,1,1,1,1,0,2,3,2,3, 2,0,2,1,2,6,1,0,1,0, 0,1,0,1,0,1,0,4,1,0, 0,1,2,1,0,1,0,0,1,0],
    [0,0,1,0,1,3,4,2,2,3, 8,4,1,1,1,1,1,1,1,1, 1,1,1,0,1,1,2,3,2,2, 2,2,1,2,0,2,1,8,1,0, 1,0,1,0,1,0,0,0,1,0, 1,0,1,0,0,1,0,0,1,3],
    [0,0,1,0,1,1,2,2,2,3, 7,3,1,1,1,1,1,1,1,1, 1,1,1,1,0,1,2,4,2,3, 2,1,2,0,2,1,0,1,1,0, 2,0,1,0,1,0,0,1,0,1, 5,1,0,1,0,0,1,0,0,1],
    [0,0,1,0,1,2,3,2,2,3, 7,4,1,1,2,0,1,1,0,1, 0,1,1,1,1,0,1,2,3,2, 2,3,2,2,0,2,2,1,0,4, 1,0,0,1,2,0,0,1,0,0, 1,0,0,1,2,0,0,0,1,0],
    [0,0,1,0,1,2,2,2,2,4, 8,4,1,0,1,2,1,1,1,0, 1,2,1,0,1,1,2,2,2,4, 3,2,0,1,2,3,0,1,0,1, 0,0,1,2,0,0,3,1,0,0, 1,0,1,0,0,0,1,2,1,0],
    [0,0,1,0,1,1,2,1,2,3, 6,3,1,1,0,1,1,2,1,1, 1,1,0,1,1,2,1,2,2,2, 2,2,2,3,0,2,0,0,1,1, 0,2,1,0,5,1,0,0,2,0, 0,1,0,1,0,1,0,1,0,1],
    [0,0,1,0,1,2,4,3,3,4, 10,5,1,1,1,0,0,1,1,1, 1,0,1,1,0,1,4,3,2,2, 2,2,3,2,1,1,2,1,0,0, 1,1,0,6,1,0,1,0,0,1, 0,1,1,0,1,0,0,1,1,0],
    [0,0,1,0,1,2,3,2,2,3, 7,4,1,1,1,1,0,1,1,1, 1,1,1,1,0,1,2,2,7,3, 2,2,0,2,1,1,0,1,1,0, 1,0,1,1,0,1,2,0,1,0, 1,0,0,2,0,1,0,0,1,1],
    [0,0,1,0,1,1,2,2,2,3, 8,4,1,1,2,1,1,0,1,1, 1,1,1,0,1,1,2,3,3,2, 2,0,2,1,2,1,6,2,0,1, 1,0,1,0,0,1,0,2,0,1, 1,0,0,1,0,3,1,0,1,0],
    [0,0,1,0,1,2,3,2,2,4, 8,4,1,1,1,2,1,1,1,1, 1,1,0,1,1,1,2,3,2,2, 2,2,2,0,2,1,1,0,1,6, 1,0,1,0,1,0,1,0,1,0, 0,1,0,0,1,0,2,0,1,0],
    [0,1,1,0,1,2,3,2,2,3, 7,4,1,1,1,1,2,1,1,1, 1,1,1,1,1,1,2,3,3,2, 0,2,2,2,1,0,1,1,0,1, 1,0,1,0,1,5,0,1,0,1, 0,1,0,0,1,0,1,0,0,1],
    [0,0,1,0,1,2,3,2,2,3, 7,4,1,2,1,1,1,1,1,1, 1,1,1,1,0,1,2,2,2,3, 3,2,2,0,2,2,1,0,1,1, 0,1,0,1,0,1,0,4,0,1, 0,1,0,1,0,0,1,0,0,1],
    [0,0,1,0,1,2,3,3,2,4, 9,4,1,1,1,1,1,1,1,1, 1,1,1,0,1,1,2,3,3,3, 2,0,2,2,2,1,0,1,1,0, 1,0,1,0,1,0,1,0,1,0, 1,3,0,1,0,0,1,0,1,0],
    [0,0,1,0,1,2,3,2,3,3, 8,4,1,1,1,1,1,1,1,1, 1,1,1,1,0,1,2,2,3,2, 2,2,0,2,1,2,1,0,1,1, 0,1,1,0,1,0,1,0,1,2, 0,1,4,1,0,0,1,0,1,0],
    [0,0,1,0,1,2,2,2,2,3, 7,3,1,1,1,1,1,1,1,1, 0,1,1,1,1,1,2,3,2,2, 2,2,2,0,2,2,1,0,1,1, 1,0,1,0,3,0,1,0,1,0, 1,0,1,0,0,1,0,1,9,1],
    [0,0,1,0,1,2,3,2,2,3, 8,4,1,1,1,1,1,1,1,1, 1,1,1,0,1,1,2,3,3,3, 2,2,2,2,1,0,1,1,0,1, 1,0,1,1,0,1,0,1,0,1, 0,1,0,1,0,2,7,6,5,8],
    [0,0,1,0,1,2,3,2,2,3, 7,4,1,0,1,2,0,1,1,1, 1,0,1,2,1,1,2,2,2,2, 2,2,2,2,2,1,0,1,1,1, 0,1,2,1,1,0,1,1,2,1, 1,1,0,1,1,1,1,6,1,1],
    [0,0,1,0,1,2,3,2,2,3, 7,4,1,1,0,1,1,2,1,1, 0,1,1,1,2,1,2,3,2,2, 2,2,0,2,1,1,3,1,1,1, 1,2,1,0,1,1,2,1,0,1, 1,1,2,1,0,1,1,0,1,1],
    [0,0,1,0,1,2,3,2,2,3, 8,4,1,1,1,0,1,1,2,1, 1,1,0,1,1,1,2,2,3,2, 2,2,2,0,2,1,1,1,1,1, 1,0,1,1,2,1,1,0,1,1, 2,1,1,0,1,1,1,1,2,1],
    [0,0,1,0,1,2,3,2,2,3, 7,4,1,2,1,1,1,0,1,1, 1,1,1,0,1,1,2,3,2,2, 2,2,2,2,1,1,1,0,1,1, 1,1,1,1,0,1,1,2,1,1, 1,0,1,1,1,2,1,1,1,1],
    [0,0,1,0,1,2,3,2,2,3, 8,4,1,1,1,1,2,1,1,1, 1,1,1,1,1,1,2,2,2,3, 2,2,2,2,2,1,1,1,1,1, 1,1,1,1,1,1,0,1,1,1, 1,1,1,1,1,1,1,1,1,2],
]

member_colors = [
    '#d4a0a8', '#d4a0e0', '#e08088', '#a85030', '#a8d0f0', '#8850b8', '#c0c020', '#d8b060',
    '#78b868', '#28c070', '#c85080', '#c010b0', '#e03060', '#a8b0e0', '#d0b088', '#1860b8',
    '#c8c868', '#b8f050', '#60a0d8', '#60e0e8', '#c04828', '#a0c898', '#c048d8', '#207060',
    '#b01828', '#c09878', '#802870', '#583080', '#904048', '#185890', '#50b888', '#30e0e0',
    '#6020d0', '#a08848', '#88d888', '#c0e080', '#705028', '#e86058', '#382878', '#50d040',
    '#b0d8c0', '#a82840', '#e890c8', '#7098b0', '#a830c8', '#20e098', '#e0e098', '#409898',
    '#508838', '#7050e8',
]

# ---------------- figure ----------------
W, H = 740, 700
fig = plt.figure(figsize=(W / 100, H / 100), dpi=100)
fig.patch.set_facecolor('white')

def fx(x):
    return x / W

def fy(y):
    return 1 - y / H

ax = fig.add_axes([fx(50), fy(599), (692 - 50) / W, 599 / H])
ymin, ymax = 30 - (599 - 21) / 7, 30 + 21 / 7
ax.set_xlim(0, 360)
ax.set_ylim(ymin, ymax)
for s in ['top', 'left', 'right']:
    ax.spines[s].set_visible(False)
ax.spines['bottom'].set_color('#606060')
ax.spines['bottom'].set_linewidth(1.0)

# grid
for d in range(0, 361, 24):
    ax.axvline(d, color='#c0c0c0', lw=0.9, zorder=0.5, clip_on=False)
for v in range(30, -46, -5):
    if v == 0:
        ax.axhline(v, color='#888888', lw=1.8, zorder=0.6)
    elif v % 10 == 0:
        ax.axhline(v, color='#c0c0c0', lw=1.8, zorder=0.5)
    else:
        ax.axhline(v, color='#c0c0c0', lw=0.9, zorder=0.5)

ax.set_yticks(range(-45, 31, 5))
ax.set_yticklabels([str(v) for v in range(-45, 31, 5)])
ax.tick_params(axis='y', length=0, pad=12, labelsize=7.2)
ax.set_xticks(range(0, 361, 24))
ax.set_xticklabels(date_labels, rotation=90, va='top', ha='center')
ax.tick_params(axis='x', length=0, pad=3, labelsize=7.2)
offset = mtransforms.ScaledTranslation(6 / 100, 0, fig.dpi_scale_trans)
for lab in ax.get_xticklabels():
    lab.set_transform(lab.get_transform() + offset)

ax2 = ax.twinx()
ax2.set_ylim(ymin + 45, ymax + 45)
for s in ['top', 'left', 'right', 'bottom']:
    ax2.spines[s].set_visible(False)
ax2.set_yticks(range(0, 76, 5))
ax2.set_yticklabels([str(v) for v in range(0, 76, 5)])
ax2.tick_params(axis='y', length=0, pad=6, labelsize=7.2)

# members
for i in range(50):
    c = member_colors[i]
    ax.plot(hours_12, t850_members[i], color=c, lw=0.75, marker='+', ms=3, mew=0.7, zorder=2)
    ax.plot(hours_12, t500_members[i], color=c, lw=0.75, marker='+', ms=3, mew=0.7, zorder=2)
    ax2.plot(hours_precip, precip_members[i], color=c, lw=0.75, marker='+', ms=3, mew=0.7, zorder=2)

# control and mean
ax.plot(hours_6, t850_ctrl, color='black', lw=2.2, zorder=3, solid_joinstyle='miter')
ax.plot(hours_6, t500_ctrl, color='black', lw=2.2, zorder=3, solid_joinstyle='miter')
ax2.plot(hours_precip, precip_ctrl, color='black', lw=2.2, zorder=3, solid_joinstyle='miter')
ax.plot(hours_6, t850_mean, color='#ff0000', lw=3.2, zorder=4)
ax.plot(hours_6, t500_mean, color='#ff0000', lw=3.2, zorder=4)
ax2.plot(hours_precip, precip_mean, color='#ff0000', lw=3.2, zorder=4)

# panel labels
ax.text(5.6, 6.0, 'Temp. 850hPa', fontsize=7.2, va='center', ha='left', zorder=5)
ax.text(5.6, -18.1, 'Temp. 500hPa', fontsize=7.2, va='center', ha='left', zorder=5)
ax.text(5.6, -35.3, 'Précipitations', fontsize=7.2, va='center', ha='left', zorder=5)

# unit labels
fig.text(fx(20), fy(607), '(°C)', fontsize=7.2, va='center', ha='left')
fig.text(fx(710), fy(607), '(mm)', fontsize=7.2, va='center', ha='left')

# legend lines
fig.add_artist(Line2D([fx(35), fx(65)], [fy(639), fy(639)], color='#ff0000', lw=3))
fig.text(fx(75), fy(639), 'Moyenne des scénarios', fontsize=7.2, va='center', ha='left')
fig.add_artist(Line2D([fx(225), fx(255)], [fy(639), fy(639)], color='black', lw=3))
fig.text(fx(264), fy(639), 'Contrôle/Det', fontsize=7.2, va='center', ha='left')
fig.text(fx(264), fy(652), 'CEP/ECMWF', fontsize=7.2, va='center', ha='left')
fig.text(fx(370), fy(652), '50 Perts.', fontsize=7.2, va='center', ha='left')

# member colour boxes
for i, c in enumerate(member_colors):
    row, col = divmod(i, 25)
    x0 = 430 + col * 11.33
    y0 = 645 + row * 6.3
    fig.add_artist(Rectangle((fx(x0), fy(y0 + 6.3)), 10 / W, 6.3 / H, facecolor=c,
                             edgecolor='none', transform=fig.transFigure))
    ny = 640 if row == 0 else 662.5
    fig.text(fx(x0 + 5), fy(ny), '%02d' % (i + 1), fontsize=6, fontweight='bold',
             va='center', ha='center')

# title box
fig.add_artist(Rectangle((fx(20), fy(699)), 420 / W, 32 / H, facecolor='none',
                         edgecolor='black', lw=1, transform=fig.transFigure))
fig.text(fx(30), fy(677), 'Diagramme ensembles ECMWF/CEP 0.25° sur 360h pour Strasbourg',
         fontsize=8.35, fontweight='bold', va='center', ha='left')
fig.text(fx(30), fy(691), 'Températures 850hPa et 500hPa (°C) , précipitations (mm)',
         fontsize=7.2, va='center', ha='left')
fig.text(fx(450), fy(675), 'Ensemble ECMWF/CEP du 17/11/2024 - 00Z',
         fontsize=7.2, va='center', ha='left')
fig.text(fx(450), fy(691), 'Copyright 2024 Meteociel.fr - ECMWF',
         fontsize=8.35, fontweight='bold', va='center', ha='left')

fig.savefig('out.png', dpi=100)
